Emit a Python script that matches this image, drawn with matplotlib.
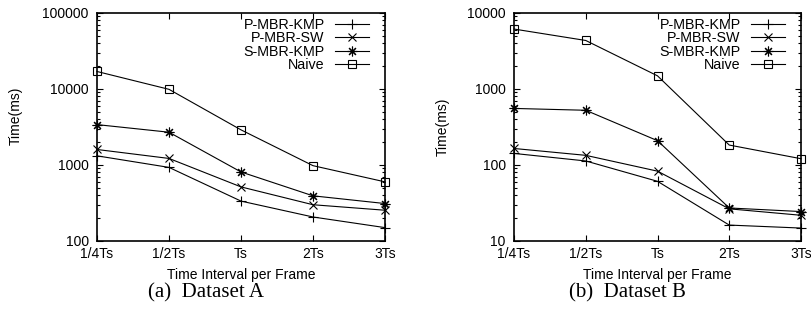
import matplotlib.pyplot as plt
from matplotlib.ticker import LogLocator, NullFormatter, FixedLocator

# ------------------ DATA ------------------
intervals = ["1/4Ts", "1/2Ts", "Ts", "2Ts", "3Ts"]
series_names = ["P-MBR-KMP", "P-MBR-SW", "S-MBR-KMP", "Naive"]

# Dataset A (ms)
a_pkmp = [1320, 930, 335, 207, 150]
a_psw = [1600, 1220, 515, 300, 254]
a_smbr = [3400, 2700, 810, 393, 311]
a_naive = [17000, 9900, 2900, 980, 600]

# Dataset B (ms)
b_pkmp = [142, 113, 61, 16.2, 14.8]
b_psw = [165, 134, 83, 26.5, 21.8]
b_smbr = [555, 525, 209, 27.2, 24.4]
b_naive = [6150, 4350, 1490, 183, 121]
# ------------------------------------------

SANS = "Liberation Sans"
SERIF = "Liberation Serif"
plt.rcParams["font.family"] = SANS

markers = ["+", "x", (8, 2, 0), "s"]
msizes = [7, 6, 7, 6]


def dibujar(ax, datos, ylim, ylab_pos):
    xs = list(range(len(intervals)))
    for nombre, ys, mk, ms in zip(series_names, datos, markers, msizes):
        ax.plot(xs, ys, color="black", lw=0.8, marker=mk, markersize=ms,
                markerfacecolor="none", markeredgecolor="black",
                markeredgewidth=0.8, label=nombre, clip_on=False)
    ax.set_yscale("log")
    ax.set_ylim(*ylim)
    ax.set_xlim(0, len(intervals) - 1)
    ax.xaxis.set_major_locator(FixedLocator(xs))
    ax.set_xticklabels(intervals)
    ax.yaxis.set_major_locator(LogLocator(base=10))
    ax.yaxis.set_minor_locator(LogLocator(base=10, subs=range(2, 10)))
    ax.yaxis.set_minor_formatter(NullFormatter())
    ax.yaxis.set_major_formatter(plt.FuncFormatter(lambda v, p: f"{int(round(v))}"))
    ax.tick_params(which="both", direction="in", top=True, right=True,
                   labelsize=10, width=0.8)
    ax.tick_params(which="major", length=4)
    ax.tick_params(which="minor", length=2)
    ax.tick_params(axis="y", pad=6)
    ax.tick_params(axis="x", pad=4)
    for s in ax.spines.values():
        s.set_linewidth(1.2)
    ax.set_xlabel("Time Interval per Frame", fontsize=10, labelpad=5)
    ax.set_ylabel("Time(ms)", fontsize=10)
    ax.yaxis.set_label_coords(*ylab_pos)
    ax.legend(loc="upper right", frameon=False, markerfirst=False,
              fontsize=10.3, handlelength=2.4, labelspacing=-0.04,
              borderaxespad=0.0, borderpad=0.1, handletextpad=0.7,
              bbox_to_anchor=(0.95, 0.985))


fig = plt.figure(figsize=(8.11, 3.2), dpi=100)
ax1 = fig.add_axes([97 / 811, 79 / 320, 288 / 811, 228 / 320])
ax2 = fig.add_axes([514 / 811, 79 / 320, 287 / 811, 228 / 320])

dibujar(ax1, [a_pkmp, a_psw, a_smbr, a_naive], (100, 100000), (-0.257, 0.55))
dibujar(ax2, [b_pkmp, b_psw, b_smbr, b_naive], (10, 10000), (-0.223, 0.5))

fig.text(206.5 / 811, 1 - 293 / 320, "(a)  Dataset A", ha="center",
         va="center", fontsize=15, family=SERIF)
fig.text(627.5 / 811, 1 - 293 / 320, "(b)  Dataset B", ha="center",
         va="center", fontsize=15, family=SERIF)

fig.savefig("out.png", dpi=100)
